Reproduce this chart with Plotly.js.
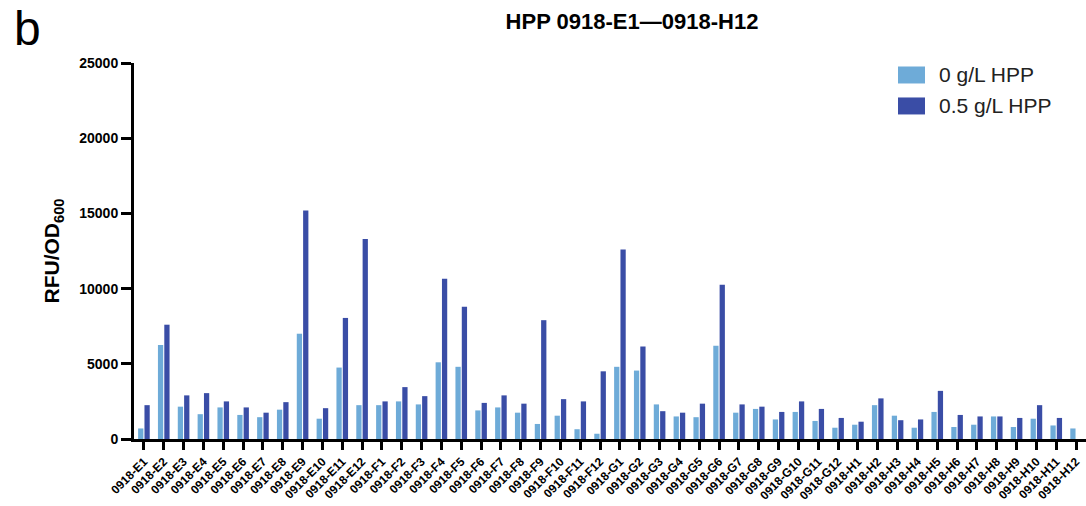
<!DOCTYPE html>
<html>
<head>
<meta charset="utf-8">
<script src="https://cdn.plot.ly/plotly-3.0.1.min.js"></script>
<style>html,body{margin:0;padding:0;background:#fff;}#chart{width:1086px;height:506px;}</style>
</head>
<body>
<div id="chart"></div>
<script>
const categories = [
  "0918-E1","0918-E2","0918-E3","0918-E4","0918-E5","0918-E6","0918-E7","0918-E8","0918-E9","0918-E10","0918-E11","0918-E12",
  "0918-F1","0918-F2","0918-F3","0918-F4","0918-F5","0918-F6","0918-F7","0918-F8","0918-F9","0918-F10","0918-F11","0918-F12",
  "0918-G1","0918-G2","0918-G3","0918-G4","0918-G5","0918-G6","0918-G7","0918-G8","0918-G9","0918-G10","0918-G11","0918-G12",
  "0918-H1","0918-H2","0918-H3","0918-H4","0918-H5","0918-H6","0918-H7","0918-H8","0918-H9","0918-H10","0918-H11","0918-H12"
];
const hpp0 = [
  700, 6250, 2150, 1650, 2100, 1600, 1450, 1950, 7000, 1350, 4750, 2250,
  2250, 2500, 2300, 5100, 4800, 1900, 2100, 1750, 1000, 1550, 650, 350,
  4800, 4550, 2300, 1500, 1450, 6200, 1750, 2000, 1300, 1800, 1200, 750,
  950, 2250, 1550, 750, 1800, 800, 950, 1500, 800, 1350, 900, 700
];
const hpp05 = [
  2250, 7600, 2900, 3050, 2500, 2100, 1750, 2450, 15200, 2050, 8050, 13300,
  2500, 3450, 2850, 10650, 8800, 2400, 2900, 2350, 7900, 2650, 2500, 4500,
  12600, 6150, 1850, 1750, 2350, 10250, 2300, 2150, 1800, 2500, 2000, 1400,
  1150, 2700, 1250, 1300, 3200, 1600, 1500, 1500, 1400, 2250, 1400, null
];
const seriesNames = ["0 g/L HPP", "0.5 g/L HPP"];
const seriesColors = ["#6EABD8", "#3A4DA6"];
const yTicks = [0, 5000, 10000, 15000, 20000, 25000];

const FONT = "Liberation Sans, Arial, Helvetica, sans-serif";

// plot-area geometry helpers (pixels -> paper fractions) for legend placement
const L = 134, W = 952, Y0 = 439.3, H = 376.3;
const px = v => (v - L) / W;
const py = v => (Y0 - v) / H;

const traces = seriesNames.map((n, i) => ({
  type: "bar", name: n, x: categories, y: i === 0 ? hpp0 : hpp05,
  marker: {color: seriesColors[i]}, showlegend: false
}));

const legendRows = [75, 106];
const shapes = legendRows.map((cy, i) => ({
  type: "rect", xref: "paper", yref: "paper",
  x0: px(898), x1: px(925), y0: py(cy + 8.5), y1: py(cy - 8.5),
  fillcolor: seriesColors[i], line: {width: 0}
}));
const legendTexts = legendRows.map((cy, i) => ({
  text: seriesNames[i], xref: "paper", yref: "paper", x: px(937), y: py(cy),
  xanchor: "left", yanchor: "middle", showarrow: false,
  font: {family: FONT, size: 21, color: "#222"}
}));

const layout = {
  width: 1086, height: 506,
  margin: {l: 134, r: 0, t: 63, b: 67, autoexpand: false},
  paper_bgcolor: "#fff", plot_bgcolor: "#fff",
  barmode: "group", bargap: 0.36, bargroupgap: 0.17,
  font: {family: FONT, color: "#000"},
  title: {
    text: "<b>HPP 0918-E1\u20140918-H12</b>",
    x: 632/1086, xanchor: "center", xref: "container",
    y: 1 - 21/506, yanchor: "middle", yref: "container",
    font: {family: FONT, size: 22, color: "#000"}
  },
  xaxis: {
    type: "category", range: [-0.5, 47.5], showgrid: false, zeroline: false,
    showline: true, linecolor: "#000", linewidth: 3,
    ticks: "outside", ticklen: 8, tickwidth: 3, tickcolor: "#000",
    tickangle: -45, tickfont: {family: FONT, size: 12, color: "#000", weight: "bold"},
    automargin: false
  },
  yaxis: {
    range: [0, 25000], showgrid: false, zeroline: false,
    showline: true, linecolor: "#000", linewidth: 3,
    ticks: "outside", ticklen: 10, tickwidth: 3, tickcolor: "#000",
    tickvals: yTicks, ticktext: yTicks.map(String),
    tickfont: {family: FONT, size: 14, color: "#000", weight: "bold"},
    title: {text: "<b>RFU/OD<sub>600</sub></b>", font: {family: FONT, size: 21, color: "#000"}, standoff: 14},
    automargin: false
  },
  showlegend: false,
  shapes: shapes,
  annotations: [
    {text: "b", xref: "paper", yref: "paper", x: px(12), y: py(0),
     xanchor: "left", yanchor: "top", showarrow: false,
     font: {family: FONT, size: 48, color: "#000"}}
  ].concat(legendTexts)
};

Plotly.newPlot("chart", traces, layout, {displayModeBar: false, staticPlot: true});
</script>
</body>
</html>
